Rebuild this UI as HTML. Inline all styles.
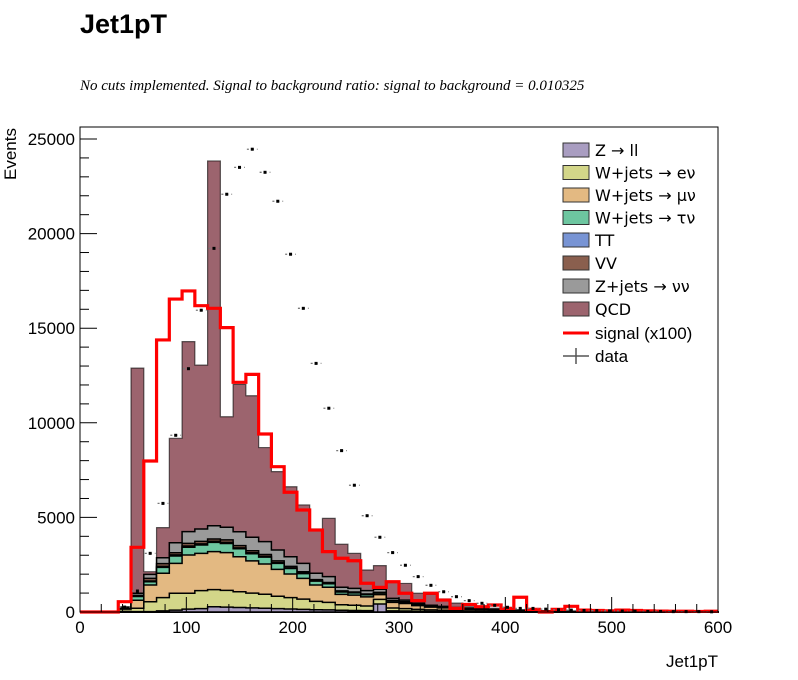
<!DOCTYPE html>
<html><head><meta charset="utf-8"><style>
body{margin:0;background:#fff;width:798px;height:675px;overflow:hidden}
svg text{font-family:"Liberation Sans",sans-serif}
</style></head><body>
<svg id="chart" width="798" height="675" xmlns="http://www.w3.org/2000/svg">
<text x="80" y="33" font-size="27" font-weight="bold">Jet1pT</text>
<text x="80" y="90" font-size="15" font-style="italic" style="font-family:'Liberation Serif',serif">No cuts implemented. Signal to background ratio: signal to background = 0.010325</text>
<g id="plot"></g>
<text x="718" y="667" font-size="17" text-anchor="end">Jet1pT</text>
<text transform="translate(16,128) rotate(-90)" font-size="17" text-anchor="end">Events</text>
<g id="legend"></g>
</svg>
<script>
const binEdges0 = 0, binWidth = 12, nBins = 50;
const zll = [0,0,0,30,20,20,60,100,150,180,280,260,240,220,200,180,160,140,120,110,90,80,70,420,60,50,40,30,25,20,15,15,10,10,8,6,5,4,3,3,2,2,2,1,1,1,1,1,1,1];
const wev = [0,0,0,120,180,525,700,890,840,950,900,880,830,780,740,650,600,540,440,400,290,280,250,250,150,130,100,80,65,50,45,35,30,25,20,15,12,10,8,6,5,4,3,3,2,2,2,1,1,1];
const wmv = [0,0,0,60,420,885,1290,1580,2020,1970,2010,2000,1850,1700,1600,1420,1250,1100,870,800,550,530,480,250,300,270,200,150,125,100,85,75,60,50,40,30,25,20,15,12,10,8,6,5,4,3,3,2,2,1];
const wtv = [0,0,0,10,200,170,310,390,410,440,490,480,420,380,360,320,290,250,200,180,130,120,110,80,70,60,45,35,30,25,20,15,12,10,8,6,5,4,3,3,2,2,1,1,1,1,1,0,0,0];
const tt = [0,0,0,5,20,40,50,60,70,60,60,60,50,50,40,40,30,30,20,20,15,15,10,10,10,10,5,5,5,5,5,5,3,3,2,2,2,1,1,1,1,1,1,0,0,0,0,0,0,0];
const vv = [0,0,0,5,40,140,150,110,140,130,120,130,120,110,100,90,80,70,60,50,40,35,30,30,20,20,15,10,10,5,5,5,5,4,3,3,2,2,2,1,1,1,1,1,0,0,0,0,0,0];
const znn = [0,0,0,20,110,210,310,530,620,660,700,670,730,710,680,580,510,440,340,310,195,190,180,160,110,90,65,50,40,35,25,20,18,15,12,10,8,6,5,4,3,3,2,2,2,1,1,1,1,1];
const qcd = [0,0,0,30,11900,140,1590,5520,10040,8660,19280,5840,7790,7480,4970,4140,3700,3090,2340,3080,2270,1850,1090,1250,880,880,520,570,390,230,80,50,60,40,30,20,15,10,10,8,6,5,4,3,3,2,2,1,1,1];
const signal = [0,0,0,545,3420,7980,14380,16540,16970,16190,16050,15030,12140,12560,9410,7680,6330,5390,4330,3190,2840,2710,1520,1300,1600,990,600,990,630,190,400,280,370,190,780,140,0,140,300,100,80,60,100,80,60,50,40,40,30,40];
const dataVals = [0,0,0,260,1110,3100,5740,9340,12860,15950,19220,22080,23500,24460,23240,21710,18910,16050,13140,10770,8530,6700,5090,3950,3140,2470,1870,1410,1070,810,600,460,350,250,190,190,150,120,100,80,70,60,50,40,30,30,20,20,20,10];
const xTicks = [0,100,200,300,400,500,600];
const yTicks = [0,5000,10000,15000,20000,25000];
const layerNames = ["Z \u2192 ll","W+jets \u2192 e\u03bd","W+jets \u2192 \u03bc\u03bd","W+jets \u2192 \u03c4\u03bd","TT","VV","Z+jets \u2192 \u03bd\u03bd","QCD"];

const X0=80,X1=718,Y0=612,Y1=127;
const xs=v=>X0+(v/600)*(X1-X0);
const ys=v=>Y0-(v/25000)*(612-139);
const NS="http://www.w3.org/2000/svg";
const plot=document.getElementById('plot');
function mk(tag,attrs,parent){const e=document.createElementNS(NS,tag);for(const k in attrs)e.setAttribute(k,attrs[k]);(parent||plot).appendChild(e);return e;}

const layers=[zll,wev,wmv,wtv,tt,vv,znn,qcd];
const colors=["#a99dc1","#d3d689","#e3b982","#6dc6a0","#7894d4","#8a5f4e","#9a9a9a","#9c646e"];
const layerKeys=["zll","wev","wmv","wtv","tt","vv","znn","qcd"];
const cum=[];let run=new Array(nBins).fill(0);
layers.forEach(l=>{run=run.map((v,i)=>v+l[i]);cum.push(run.slice());});
function stepPath(arr,closed){let d="M"+xs(0)+","+ys(0);for(let i=0;i<nBins;i++){d+=" L"+xs(i*binWidth)+","+ys(arr[i])+" L"+xs((i+1)*binWidth)+","+ys(arr[i]);}if(closed)d+=" L"+xs(600)+","+ys(0)+" Z";return d;}
for(let k=layers.length-1;k>=0;k--){
  const p=mk('path',{d:stepPath(cum[k],true),fill:colors[k],stroke:"#000","stroke-width":k==7?1.2:1.5,"stroke-opacity":k==7?0.6:1});
  
  
}
const sp=mk('path',{d:stepPath(signal,false),fill:"none",stroke:"#ff0000","stroke-width":3.2,"stroke-linejoin":"miter"});


dataVals.forEach((v,i)=>{
  if(v<=0)return;
  const cx=xs((i+0.5)*binWidth),cy=ys(v);
  const g=mk('g',{});
  
  
  mk('line',{x1:xs(i*binWidth)+1,x2:xs((i+1)*binWidth)-1,y1:cy,y2:cy,stroke:"#777","stroke-width":1.3,"stroke-dasharray":"2,3"},g);
  mk('rect',{x:cx-1.5,y:cy-1.5,width:3,height:3,fill:"#000"},g);
});
const fr=mk('rect',{x:X0,y:Y1,width:X1-X0,height:Y0-Y1,fill:"none",stroke:"#000","stroke-width":1});


for(let v=0;v<=25000;v+=1000){const maj=v%5000===0;mk('line',{x1:X0,x2:X0+(maj?17:9),y1:ys(v),y2:ys(v),stroke:"#000","stroke-width":1});}
yTicks.forEach(v=>{const t=mk('text',{x:X0-5,y:ys(v)+6,"font-size":17,"text-anchor":"end"});t.textContent=v;});
for(let v=0;v<=600;v+=20){const maj=v%100===0;mk('line',{x1:xs(v),x2:xs(v),y1:Y0,y2:Y0-(maj?15:8),stroke:"#000","stroke-width":1});}
xTicks.forEach(v=>{const t=mk('text',{x:xs(v),y:Y0+21,"font-size":17,"text-anchor":"middle"});t.textContent=v;});
const lg=document.getElementById('legend');
const rowY=[150,172.5,195,217.5,240,263,286,309,333,356];
layerNames.forEach((n,k)=>{
  const g=mk('g',{},lg);
  
  
  mk('rect',{x:563,y:rowY[k]-7,width:26,height:14,fill:colors[k],stroke:"#333","stroke-width":1},g);
  const t=mk('text',{x:595,y:rowY[k]+6,"font-size":17,style:"font-family:'DejaVu Sans','Liberation Sans',sans-serif;font-size:16px"},g);t.textContent=n;
});
{const g=mk('g',{},lg);
mk('line',{x1:563,x2:589,y1:rowY[8],y2:rowY[8],stroke:"#ff0000","stroke-width":3},g);
const t=mk('text',{x:595,y:rowY[8]+6,"font-size":17},g);t.textContent="signal (x100)";}
{const g=mk('g',{},lg);
mk('line',{x1:563,x2:589,y1:rowY[9],y2:rowY[9],stroke:"#555","stroke-width":1.5},g);
mk('line',{x1:576,x2:576,y1:rowY[9]-8,y2:rowY[9]+8,stroke:"#555","stroke-width":1.5},g);
const t=mk('text',{x:595,y:rowY[9]+6,"font-size":17},g);t.textContent="data";}
</script>
</body></html>
